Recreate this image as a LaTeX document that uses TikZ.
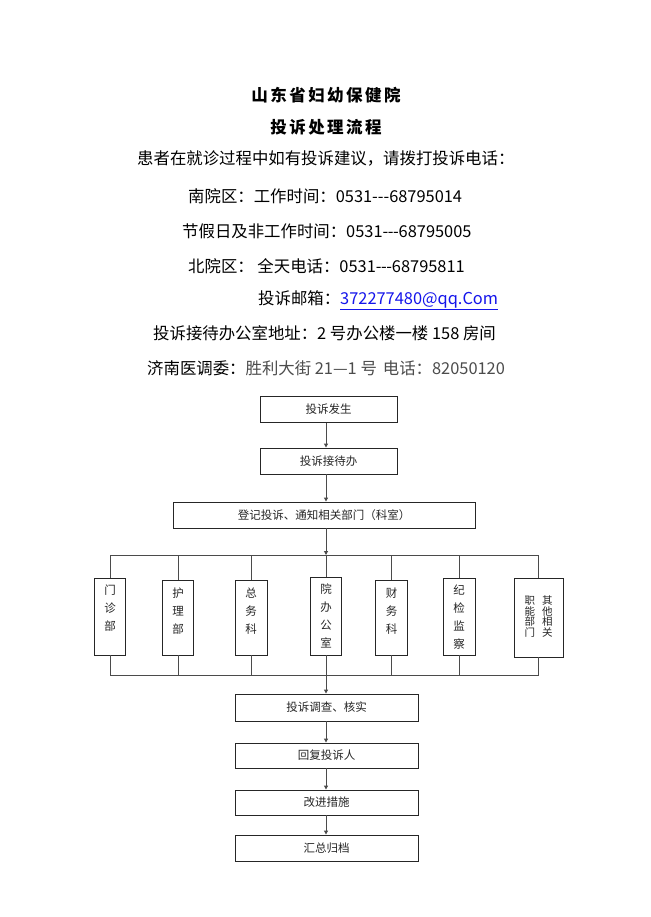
\documentclass[tikz,border=0pt]{standalone}
\usepackage{fontspec}
\setmainfont{Noto Sans CJK SC}
\usetikzlibrary{arrows.meta, positioning}
\definecolor{mailblue}{RGB}{20, 20, 235}
\definecolor{linegray}{RGB}{75, 75, 75}

\begin{document}
\begin{tikzpicture}[x=1pt, y=-1pt,
  hdr/.style={font=\fontsize{16.4}{19}\selectfont, inner sep=0pt, anchor=west},
  ttl/.style={font=\fontsize{16.5}{19}\selectfont\bfseries\addfontfeature{LetterSpace=15}, inner sep=0pt},
  flowbox/.style={draw=black!85, line width=0.9pt, inner sep=0pt, font=\fontsize{11.5}{13}\selectfont, text=black!85},
  deptbox/.style={draw=black!85, line width=0.9pt, inner sep=0pt, minimum width=31pt, minimum height=77pt},
  depttext/.style={inner sep=0pt, align=center, text=black!85, font=\fontsize{11.5}{18}\selectfont},
  link/.style={draw=linegray, line width=1pt},
  arr/.style={link, -{Triangle[length=4pt, width=4pt]}}
]
  \useasboundingbox[fill=white] (0,0) rectangle (650,917);

  % Heading
  \node[ttl] (title) at (326,95) {山东省妇幼保健院};
  \node[ttl] (subtitle) at (326,127.5) {投诉处理流程};
  \node[hdr] (intro) at (137,158) {患者在就诊过程中如有投诉建议，请拨打投诉电话：};
  \node[hdr] (south) at (188,196) {南院区：工作时间：0531-\kern0pt-\kern0pt-68795014};
  \node[hdr] (holiday) at (182,231) {节假日及非工作时间：0531-\kern-0.5pt-\kern-0.5pt-68795005};
  \node[hdr] (north) at (188,266) {北院区： 全天电话：0531-\kern-0.5pt-\kern-0.5pt-68795811};
  \node[hdr] (mail) at (258,300) {投诉邮箱：{\color{mailblue}\underline{372277480@qq.Com}}};
  \node[hdr] (office) at (153,333.5) {投诉接待办公室地址：2 号办公楼一楼 158 房间};
  \node[hdr] (jinan) at (147,368.5) {济南医调委：{\color{black!70}胜利大街 21—1 号\hspace{6pt}电话：82050120}};

  % Upper steps
  \coordinate (trunk) at (326,0);
  \node[flowbox, minimum width=137pt, minimum height=26pt] (fasheng) at (328.5,409.5) {投诉发生};
  \node[flowbox, minimum width=137pt, minimum height=26pt] (jiedai) at (328.5,461) {投诉接待办};
  \node[flowbox, minimum width=302pt, minimum height=26pt] (dengji) at (324,515) {登记投诉、通知相关部门（科室）};

  \draw[arr] (fasheng.south -| trunk) -- (jiedai.north -| trunk);
  \draw[arr] (jiedai.south -| trunk) -- (dengji.north -| trunk);

  % Departments
  \coordinate (bartop) at (0,555);
  \coordinate (barbot) at (0,675);
  \node[deptbox] (menzhen) at (110,616.5) {};
  \node[deptbox, minimum height=75pt] (huli) at (178,617.5) {};
  \node[deptbox, minimum width=32pt, minimum height=75pt] (zongwu) at (251,617.5) {};
  \node[deptbox, minimum height=78pt] (yuanban) at (326,616) {};
  \node[deptbox, minimum width=32pt, minimum height=75pt] (caiwu) at (391.5,617.5) {};
  \node[deptbox, minimum width=32pt] (jijian) at (459,616.5) {};
  \node[deptbox, minimum width=49pt, minimum height=79pt] (qita) at (538.5,617.5) {};

  \node[depttext, below=7.5pt of menzhen.north] (menzhen-t) {门\\诊\\部};
  \node[depttext, below=8pt of huli.north] (huli-t) {护\\理\\部};
  \node[depttext, below=8pt of zongwu.north] (zongwu-t) {总\\务\\科};
  \node[depttext, below=6.5pt of yuanban.north] (yuanban-t) {院\\办\\公\\室};
  \node[depttext, below=8pt of caiwu.north] (caiwu-t) {财\\务\\科};
  \node[depttext, below=7.5pt of jijian.north] (jijian-t) {纪\\检\\监\\察};
  \node[depttext, font=\fontsize{10.5}{10.5}\selectfont, below=18pt of qita.north] (qita-t)
    {职\hspace{7pt}其\\能\hspace{7pt}他\\部\hspace{7pt}相\\门\hspace{7pt}关};

  \draw[arr] (dengji.south -| trunk) -- (trunk |- bartop);
  \draw[link] (menzhen.north |- bartop) -- (qita.north |- bartop);
  \draw[link] (menzhen.south |- barbot) -- (qita.south |- barbot);
  \foreach \dept in {menzhen, huli, zongwu, yuanban, caiwu, jijian, qita} {
    \draw[link] (\dept.north |- bartop) -- (\dept.north);
    \draw[link] (\dept.south) -- (\dept.south |- barbot);
  }

  % Lower steps
  \node[flowbox, minimum width=183pt, minimum height=27pt] (diaocha) at (326.5,707.5) {投诉调查、核实};
  \node[flowbox, minimum width=183pt, minimum height=25pt] (huifu) at (326.5,755.5) {回复投诉人};
  \node[flowbox, minimum width=183pt, minimum height=25pt] (gaijin) at (326.5,802.5) {改进措施};
  \node[flowbox, minimum width=183pt, minimum height=26pt] (huizong) at (326.5,848) {汇总归档};

  \draw[arr] (trunk |- barbot) -- (diaocha.north -| trunk);
  \draw[arr] (diaocha.south -| trunk) -- (huifu.north -| trunk);
  \draw[arr] (huifu.south -| trunk) -- (gaijin.north -| trunk);
  \draw[arr] (gaijin.south -| trunk) -- (huizong.north -| trunk);
\end{tikzpicture}
\end{document}
